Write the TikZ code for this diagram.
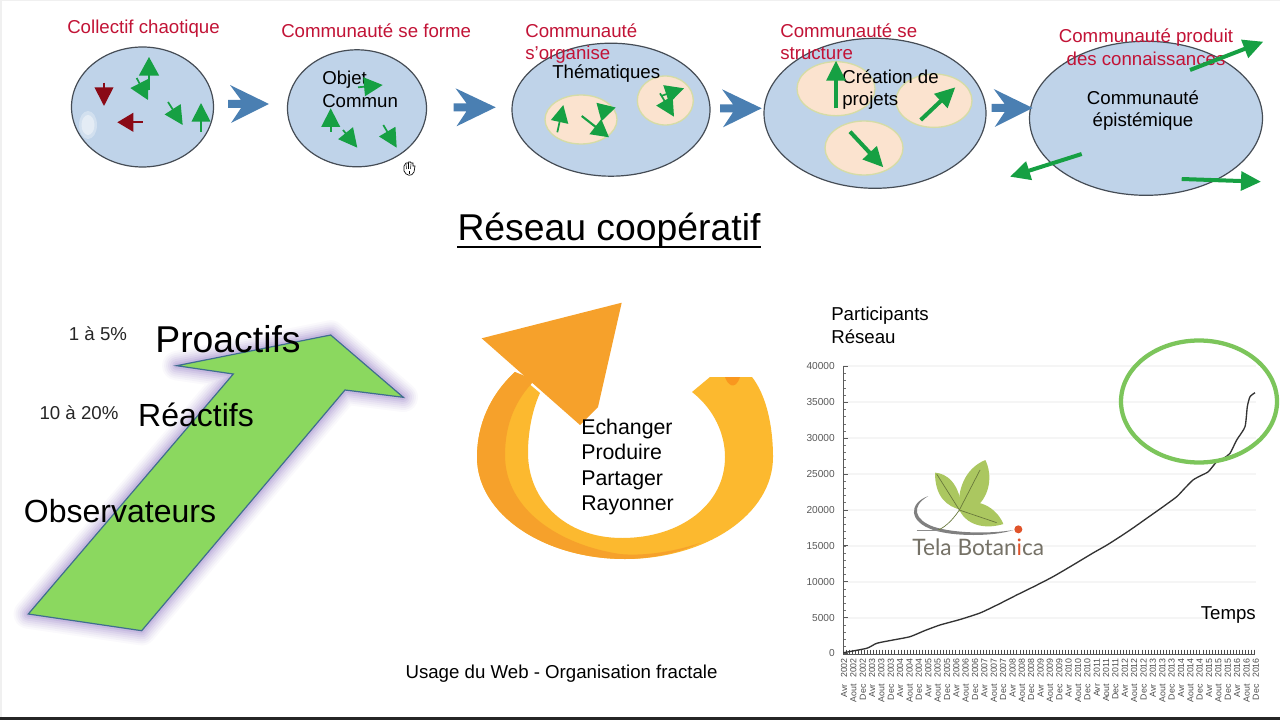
\documentclass[tikz,border=0pt]{standalone}
\usepackage{fontspec}
\setmainfont{Liberation Sans}
\newfontfamily\logofont{Lato}
\usetikzlibrary{arrows.meta}
\definecolor{ellblue}{HTML}{BFD3E9}
\definecolor{ellline}{HTML}{454C55}
\definecolor{pale}{HTML}{FBE3CF}
\definecolor{paleline}{HTML}{D5DCA6}
\definecolor{agreen}{HTML}{16A043}
\definecolor{ared}{HTML}{8A0A16}
\definecolor{labred}{HTML}{C21336}
\definecolor{chev}{HTML}{4A7FB2}
\definecolor{ringlight}{HTML}{FCB92F}
\definecolor{ringdark}{HTML}{F6A12B}
\definecolor{bigg}{HTML}{8BD85F}
\definecolor{biggline}{HTML}{3F6E8F}
\definecolor{glow}{HTML}{8468BE}
\definecolor{leaf}{HTML}{ABC760}
\definecolor{logogray}{HTML}{757166}
\definecolor{logored}{HTML}{E0532A}
\definecolor{ovalgreen}{HTML}{7CC55B}
\tikzset{
  bubble/.style={draw=ellline,fill=ellblue,line width=.9pt},
  subbubble/.style={draw=paleline,fill=pale,line width=1pt},
  redlabel/.style={text=labred,font=\fontsize{14}{17}\selectfont,align=left,inner sep=0pt},
  blacklabel/.style={text=black,font=\fontsize{14}{17}\selectfont,align=left,inner sep=0pt},
  chevron/.style={fill=chev,draw=none},
  ylabel/.style={font=\fontsize{7.6}{9}\selectfont,text=black!65,anchor=east,inner sep=0pt},
  xlabel/.style={font=\fontsize{6.6}{8}\selectfont,text=black!70,rotate=90,anchor=east,inner sep=0pt}
}
% from, to, shaft width (pt), head length (pt), head width (pt), colour
\newcommand{\flech}[6]{\draw[#6,line width=#3pt,-{Triangle[length=#4pt,width=#5pt]}] (#1) -- (#2);}
\newcommand{\chevron}[3]{% tip x, centre y, tail x
  \fill[chevron] (#1,#2) -- ({#3+2},{#2-19}) -- ({#3+13},{#2-4}) -- (#3,{#2-4}) -- (#3,{#2+4}) -- ({#3+13},{#2+4}) -- ({#3+3},{#2+19}) -- cycle;}
\begin{document}
\begin{tikzpicture}[x=.75pt,y=-.75pt]
\useasboundingbox (0,0) rectangle (1280,720);
\fill[white] (0,0) rectangle (1280,720);
\fill[black!85] (0,717) rectangle (1280,720);
\fill[black!6] (0,0) rectangle (1280,1);
\fill[black!6] (0,0) rectangle (1.5,717);

% --- top row bubbles
\draw[bubble] (142.5,107) ellipse [x radius=71,y radius=60];
\draw[bubble] (357,108.3) ellipse [x radius=69.5,y radius=58.5];
\draw[bubble] (611,109.7) ellipse [x radius=99,y radius=66.5];
\draw[bubble] (875,113.3) ellipse [x radius=111,y radius=75];
\draw[bubble] (1146,118.3) ellipse [x radius=116.5,y radius=77];
\fill[white,opacity=.3] (88,125) ellipse [x radius=9,y radius=14];
\fill[white,opacity=.4] (88,125) ellipse [x radius=6.5,y radius=10];

\draw[subbubble] (581,119.5) ellipse [x radius=36,y radius=24.5];
\draw[subbubble] (665.3,100.5) ellipse [x radius=28,y radius=24.5];
\draw[subbubble] (836,88.7) ellipse [x radius=39,y radius=27];
\draw[subbubble] (934,100.7) ellipse [x radius=38,y radius=26.7];
\draw[subbubble] (864,148) ellipse [x radius=39,y radius=27];

% --- chevrons
\chevron{269}{104}{228}
\chevron{495.7}{107.3}{453.5}
\chevron{761.7}{108.3}{720}
\chevron{1032.7}{108}{991.7}

% --- labels of the top row
\node[redlabel,anchor=west] (t1) at (67,29) {Collectif chaotique};
\node[redlabel,anchor=west] (t2) at (281,30.5) {Communauté se forme};
\node[redlabel,anchor=north west] (t3) at (525,23) {Communauté\\s’organise};
\node[redlabel,anchor=north west] (t4) at (780,23) {Communauté se\\structure};
\node[redlabel,align=center] (t5) at (1146,47) {Communauté produit\\des connaissances};

\node[blacklabel,anchor=north west] (c2) at (322,71) {Objet\\Commun};
\node[blacklabel,anchor=west] (c3) at (552,74) {Thématiques};
\node[blacklabel,anchor=north west] (c4) at (842,69) {Création de\\projets};
\node[blacklabel,align=center] (c5) at (1143,110.5) {Communauté\\épistémique};

% --- small arrows
\flech{149,90}{149,57}{1.3}{14}{15}{agreen}
\flech{136.7,78}{148,100}{1.3}{14}{15}{agreen}
\flech{168,102}{182.7,125}{1.3}{14}{14}{agreen}
\flech{201,131.7}{201,103}{1.3}{14}{14}{agreen}
\flech{104,82.7}{104,106}{1.3}{14}{14}{ared}
\flech{142.7,122.3}{117.3,122.3}{1.3}{12}{14}{ared}

\flech{358,87.3}{382.7,85}{1.3}{14}{14}{agreen}
\flech{330.7,131.7}{330.7,108.3}{1.3}{14}{14}{agreen}
\flech{343,130}{357.3,147.7}{1.3}{14}{14}{agreen}
\flech{383.3,125}{396.7,147.7}{1.3}{14}{14}{agreen}

\flech{557.3,132.3}{563.3,105}{1.3}{13}{13}{agreen}
\flech{599,112}{615.7,107.5}{1.3}{13}{14}{agreen}
\flech{581.7,116}{609,137.3}{1.6}{13}{14}{agreen}
\flech{661,96}{684,88.3}{1.3}{14}{14}{agreen}
\flech{660,93.3}{674,116.7}{1.3}{14}{14}{agreen}

\flech{836,108.3}{836,60.7}{3}{15}{14}{agreen}
\flech{920.7,120}{955.3,87.3}{3}{15}{14}{agreen}
\flech{850,131.7}{883.3,167.3}{3}{15}{14}{agreen}

\flech{1190,70}{1263.3,41.7}{3}{15}{14}{agreen}
\flech{1081.7,154}{1010,176.7}{3}{15}{14}{agreen}
\flech{1181.7,179}{1261,181.7}{3}{15}{14}{agreen}

% --- hand cursor
\begin{scope}[shift={(409,169)}]
\draw[black,fill=white,line width=.5pt] (-5,-3) -- (-5,2) .. controls (-3,7) and (3,8) .. (5,3) -- (6,-3) -- (4,-3) -- (4,-6) -- (2,-6) -- (1.5,-7) -- (-.5,-7) -- (-1,-6) -- (-3,-6) -- cycle;
\draw[black,line width=.4pt] (-3,-5) -- (-2.5,0) (-.5,-6) -- (-.5,0) (2,-5) -- (1.5,0);
\draw[black,line width=.7pt] (0,2) -- (0,5);
\end{scope}

% --- title
\node[font=\fontsize{28}{32}\selectfont,inner sep=0pt] (titre) at (609,231) {Réseau coopératif};
\draw[black,line width=1.9pt] (457,247) -- (761,247);

% --- big green arrow
\def\bigarrow{(28.3,614) -- (141.7,630.7) -- (345,390) -- (403.3,397.3) -- (330.7,335) -- (176.7,365.7) -- (233.3,374) -- cycle}
\foreach \w/\o in {22/.04,19/.05,16/.06,13/.07,10/.09,7/.11,4/.14}{
  \draw[glow,opacity=\o,line width=\w pt,line join=round] \bigarrow;
}
\draw[fill=bigg,draw=biggline,line width=.9pt] \bigarrow;

\node[font=\fontsize{14}{16}\selectfont,inner sep=0pt,text=black!85] (p1) at (98,334) {1 à 5\%};
\node[font=\fontsize{14}{16}\selectfont,inner sep=0pt,text=black!85] (p2) at (79,413) {10 à 20\%};
\node[font=\fontsize{28}{32}\selectfont,inner sep=0pt] (pro) at (228,339) {Proactifs};
\node[font=\fontsize{24}{28}\selectfont,inner sep=0pt] (rea) at (196,415) {Réactifs};
\node[font=\fontsize{24}{28}\selectfont,inner sep=0pt] (obs) at (120,511) {Observateurs};

% --- orange ring arrow
\fill[ringlight] (515,372) .. controls (490,395) and (477,425) .. (477,457)
  .. controls (477,515) and (545,559) .. (625,559)
  .. controls (705,559) and (773,515) .. (773,457)
  .. controls (773,425) and (766,395) .. (752,377) -- (710,377) -- (692,392)
  .. controls (715,410) and (725,435) .. (725,457)
  .. controls (725,505) and (680,538) .. (622,538)
  .. controls (565,538) and (528,500) .. (528,453)
  .. controls (528,430) and (533,408) .. (540,393) -- cycle;
\fill[ringdark] (515,372) .. controls (490,395) and (477,425) .. (477,457)
  .. controls (477,515) and (545,559) .. (625,559)
  .. controls (650,559) and (680,553) .. (700,543)
  .. controls (670,553) and (640,556) .. (620,554)
  .. controls (560,545) and (505,510) .. (505,455)
  .. controls (505,425) and (515,400) .. (535,380) -- cycle;
\fill[ringdark] (481.7,338.3) -- (621.7,302.7) -- (598,407) -- (580,425) -- cycle;
\fill[ringdark!70!orange] (725,377) .. controls (727,384) and (735,392) .. (740,377) -- cycle;

\node[font=\fontsize{16}{19.1}\selectfont,align=left,anchor=north west,inner sep=0pt] (verbes) at (581,418.5) {Echanger\\Produire\\Partager\\Rayonner};

% --- chart
\foreach \k in {1,...,8}{
  \draw[black!4,line width=1.4pt] (843,{653.5-35.9*\k}) -- (1256,{653.5-35.9*\k});
}
\foreach \k in {0,...,40}{
  \draw[black!55,line width=.35pt] (843,{653.5-7.18*\k}) -- (846,{653.5-7.18*\k});
}
\foreach \k in {0,...,8}{
  \draw[black!65,line width=.5pt] (843,{653.5-35.9*\k}) -- (848,{653.5-35.9*\k});
}
\foreach \k/\v in {0/0,1/5000,2/10000,3/15000,4/20000,5/25000,6/30000,7/35000,8/40000}{
  \node[ylabel] (yl\k) at (835,{653.5-35.9*\k}) {\v};
}
\draw[black!65,line width=.6pt] (843,366) -- (843,654);
\draw[black!65,line width=.6pt] (843,654) -- (1255,654);
\foreach \k in {0,...,135}{
  \draw[black!70,line width=.6pt] ({843+3.05*\k},649.5) -- ({843+3.05*\k},654);
}
\newcounter{xl}
\foreach \y in {2002,...,2016}{
  \foreach \m in {Avr,Aout,Dec}{
    \node[xlabel] (xl\y\m) at ({844+9.36*\value{xl}},658) {\m\hspace{5pt}\y};
    \global\stepcounter{xl}
  }
}
\draw[black!80,line width=1pt,line join=round] plot[smooth,tension=.35] coordinates {(843.3,652.7) (866.7,648.3) (876.7,643.3) (893,640) (910,636.7) (925,630.5) (940,625) (960,619.5) (980,613) (998,604.5) (1016.7,595) (1035,586) (1053,576.7) (1073,565) (1093,553) (1107,545) (1120,536.7) (1133,528) (1146.7,518.3) (1162,507.5) (1176.7,496.7) (1185,488) (1193,480) (1200,476) (1208.3,471.7) (1216.7,461.7) (1224,458) (1230,453.3) (1236.7,440) (1245,426.7) (1247.3,406.7) (1250,396.7) (1255,392.7)};
\draw[ovalgreen,line width=3.2pt] (1199,401.5) ellipse [x radius=78,y radius=61];

\node[blacklabel,anchor=north west] (part) at (831,307) {Participants\\Réseau};
\node[blacklabel,anchor=east] (temps) at (1256,615.5) {Temps};
\node[blacklabel] (usage) at (561.5,673.5) {Usage du Web - Organisation fractale};

% --- logo
\begin{scope}[shift={(800,340)},x=.25pt,y=-.25pt]
\fill[black!50] (385,468) .. controls (325,490) and (325,545) .. (400,570) .. controls (460,590) and (580,590) .. (640,570) .. controls (570,582) and (460,580) .. (400,560) .. controls (345,540) and (330,500) .. (385,468) -- cycle;
\fill[leaf] (405,398) .. controls (440,400) and (480,430) .. (485,510) .. controls (440,500) and (405,470) .. (405,398) -- cycle;
\fill[leaf] (478,515) .. controls (470,450) and (495,385) .. (556,360) .. controls (578,405) and (570,465) .. (530,500) -- cycle;
\fill[leaf] (478,510) .. controls (505,465) and (585,490) .. (610,552) .. controls (570,565) and (505,565) .. (478,510) -- cycle;
\draw[leaf!60!black,line width=.5pt] (410,402) -- (478,510) -- (590,548);
\draw[leaf!60!black,line width=.5pt] (540,390) -- (478,510) .. controls (455,545) and (430,565) .. (410,572);
\draw[black!45,line width=.5pt] (350,572) -- (420,572);
\fill[logored] (655,568) circle [radius=12];
\node[font=\logofont\fontsize{17}{18}\selectfont,text=logogray,inner sep=0pt] (logo) at (535,622) {Tela Botan\textcolor{logored}{i}ca};
\end{scope}
\end{tikzpicture}
\end{document}
